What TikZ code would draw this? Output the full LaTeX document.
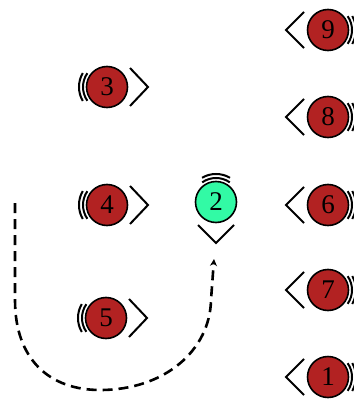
\documentclass[tikz,border=0pt]{standalone}
\usepackage{fontspec}
\setmainfont{Liberation Serif}
\usetikzlibrary{arrows.meta}
\definecolor{ballred}{RGB}{178,34,34}
\definecolor{ballgreen}{RGB}{50,250,165}
\newcommand\decoRight[1]{%
  \draw[deco] ([shift={(23pt,19pt)}]#1.center) -- ([shift={(41pt,0pt)}]#1.center) -- ([shift={(23pt,-19pt)}]#1.center);
  \draw[deco] (#1.center) ++(145:24pt) arc (145:215:24pt);
  \draw[deco] (#1.center) ++(150:28pt) arc (150:210:28pt);}
\newcommand\decoLeft[1]{%
  \draw[deco] ([shift={(-24pt,18pt)}]#1.center) -- ([shift={(-42pt,0pt)}]#1.center) -- ([shift={(-24pt,-18pt)}]#1.center);
  \draw[deco] (#1.center) ++(-35:24pt) arc (-35:35:24pt);
  \draw[deco] (#1.center) ++(-30:28pt) arc (-30:30:28pt);}
\newcommand\decoDown[1]{%
  \draw[deco] ([shift={(-18pt,-23pt)}]#1.center) -- ([shift={(0pt,-41pt)}]#1.center) -- ([shift={(18pt,-23pt)}]#1.center);
  \draw[deco] (#1.center) ++(55:24pt) arc (55:125:24pt);
  \draw[deco] (#1.center) ++(60:28pt) arc (60:120:28pt);}
\begin{document}
\begin{tikzpicture}[x=1pt,y=1pt,
  ball/.style={circle,draw=black,line width=1.6pt,minimum size=41pt,inner sep=0pt,
    font=\fontsize{27}{27}\selectfont,text=black},
  redball/.style={ball,fill=ballred},
  greenball/.style={ball,fill=ballgreen},
  deco/.style={draw=black,line width=2pt},
  dashline/.style={draw=black,line width=2.6pt,dash pattern=on 10pt off 6pt}]
\useasboundingbox (0,0) rectangle (353,-401);
\node[redball] (n3) at (107,-87) {3};
\node[redball] (n4) at (107,-205) {4};
\node[redball] (n5) at (106,-318) {5};
\node[greenball] (n2) at (216,-202) {2};
\node[redball] (n9) at (328,-30) {9};
\node[redball] (n8) at (328,-117) {8};
\node[redball] (n6) at (328,-205) {6};
\node[redball] (n7) at (328,-290) {7};
\node[redball] (n1) at (328,-377) {1};
\decoRight{n3}
\decoRight{n4}
\decoRight{n5}
\decoDown{n2}
\decoLeft{n9}
\decoLeft{n8}
\decoLeft{n6}
\decoLeft{n7}
\decoLeft{n1}
\coordinate (s) at (15,-203);
\coordinate (e) at (214,-259);
\draw[dashline,-{Stealth[length=7pt,width=7pt]}] (s) -- (15,-300)
  .. controls (15,-360) and (50,-390) .. (100,-390)
  .. controls (165,-390) and (210,-350) .. (211,-300) -- (e);
\end{tikzpicture}
\end{document}
